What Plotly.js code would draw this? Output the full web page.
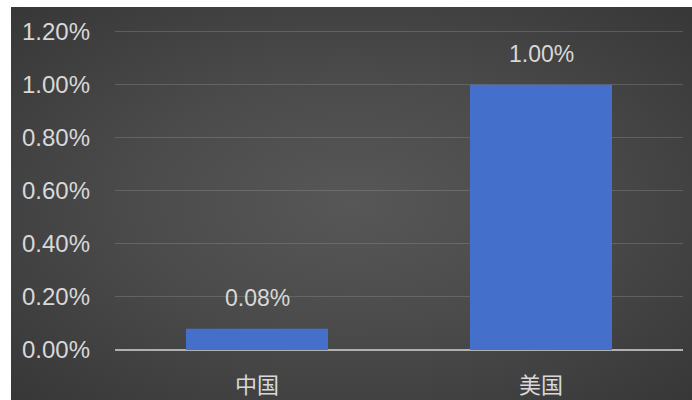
<!DOCTYPE html>
<html><head><meta charset="utf-8">
<script src="https://cdn.plot.ly/plotly-3.0.1.min.js"></script>
<style>
html,body{margin:0;padding:0;background:#fff;width:692px;height:400px;overflow:hidden;}
#wrap{position:absolute;left:11px;top:7px;width:681px;height:393px;
background:radial-gradient(ellipse at 50% 50%, #575757 0%, #4b4b4b 45%, #373737 100%);}
#chart{width:681px;height:393px;}
</style></head>
<body><div id="wrap"><div id="chart"></div></div>
<script>
const categories = ['中国', '美国'];
const values = [0.0008, 0.0100];
const yTicks = [0, 0.002, 0.004, 0.006, 0.008, 0.010, 0.012];

const numFont = 'Liberation Sans, Arial, sans-serif';
const trace = {
  type: 'bar',
  x: categories,
  y: values,
  marker: {color: '#4470cb', line: {width: 0}},
  hoverinfo: 'none'
};
const annotations = categories.map((c, i) => ({
  x: c, y: values[i], xref: 'x', yref: 'y',
  text: (values[i] * 100).toFixed(2) + '%',
  showarrow: false, yanchor: 'bottom', yshift: 16,
  font: {family: numFont, size: 23, color: '#d8d8d8'}
}));
const layout = {
  width: 681, height: 393,
  margin: {l: 104, r: 9, t: 22, b: 50},
  paper_bgcolor: 'rgba(0,0,0,0)',
  plot_bgcolor: 'rgba(0,0,0,0)',
  bargap: 0.5,
  showlegend: false,
  annotations: annotations,
  font: {family: numFont, color: '#d8d8d8', size: 18},
  xaxis: {
    showgrid: false, zeroline: false, showline: false, ticks: '',
    tickfont: {family: 'Noto Sans CJK SC, sans-serif', size: 22, color: '#d8d8d8'},
    ticklabelstandoff: 20
  },
  yaxis: {
    range: [0, 0.0121], tickvals: yTicks, tickformat: '.2%',
    showgrid: true, gridcolor: 'rgba(150,150,150,0.35)', gridwidth: 1,
    zeroline: true, zerolinecolor: '#b0b0b0', zerolinewidth: 2,
    showline: false, ticks: '',
    tickfont: {family: numFont, size: 24, color: '#d8d8d8'},
    ticklabelstandoff: 24
  }
};
Plotly.newPlot('chart', [trace], layout, {staticPlot: true});
</script></body></html>
